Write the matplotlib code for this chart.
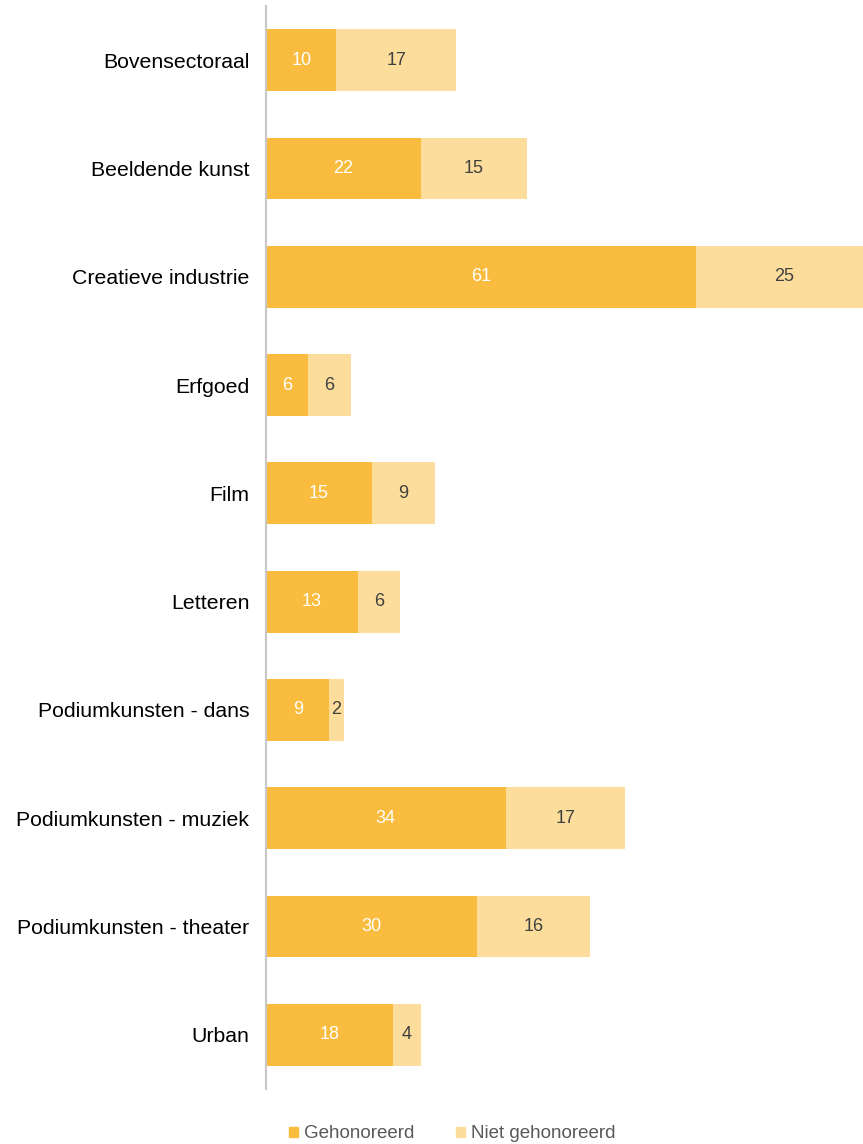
import matplotlib
matplotlib.use("Agg")
import matplotlib.pyplot as plt
from matplotlib.patches import Patch

categories = ["Bovensectoraal", "Beeldende kunst", "Creatieve industrie", "Erfgoed", "Film",
              "Letteren", "Podiumkunsten - dans", "Podiumkunsten - muziek",
              "Podiumkunsten - theater", "Urban"]
gehonoreerd = [10, 22, 61, 6, 15, 13, 9, 34, 30, 18]
niet_gehonoreerd = [17, 15, 25, 6, 9, 6, 2, 17, 16, 4]
series_labels = ["Gehonoreerd", "Niet gehonoreerd"]

plt.rcParams['font.family'] = ['Liberation Sans', 'DejaVu Sans']

c_dark = "#F9BC3E"
c_light = "#FCDD9C"

fig = plt.figure(figsize=(8.63, 11.44), dpi=100)
ax = fig.add_axes([266/863, 1 - 1089/1144, 597/863, 1083/1144])

y = list(range(len(categories)))
h = 0.57
ax.barh(y, gehonoreerd, height=h, color=c_dark, label=series_labels[0])
ax.barh(y, niet_gehonoreerd, left=gehonoreerd, height=h, color=c_light, label=series_labels[1])

for i, (a, b) in enumerate(zip(gehonoreerd, niet_gehonoreerd)):
    ax.text(a / 2, i, str(a), ha="center", va="center", color="white", fontsize=13)
    ax.text(a + b / 2, i, str(b), ha="center", va="center", color="#404040", fontsize=13)

ax.set_xlim(0, 84.7)
ax.set_ylim(len(categories) - 0.5, -0.5)
ax.set_yticks(y)
ax.set_yticklabels(categories, fontsize=15.3, color="#000000")
ax.tick_params(axis="y", length=0, pad=12)
ax.set_xticks([])
for s in ["top", "right", "bottom"]:
    ax.spines[s].set_visible(False)
ax.spines["left"].set_color("#C8C8C8")
ax.spines["left"].set_linewidth(1.5)

handles = [Patch(color=c_dark), Patch(color=c_light)]
fig.legend(handles, series_labels, loc="center", bbox_to_anchor=(452/863, 1 - 1134/1144),
           ncol=2, frameon=False, fontsize=13.5, handlelength=0.5, handleheight=0.5,
           handletextpad=0.3, columnspacing=2.2, labelcolor="#595959")

fig.savefig("out.png", dpi=100)
